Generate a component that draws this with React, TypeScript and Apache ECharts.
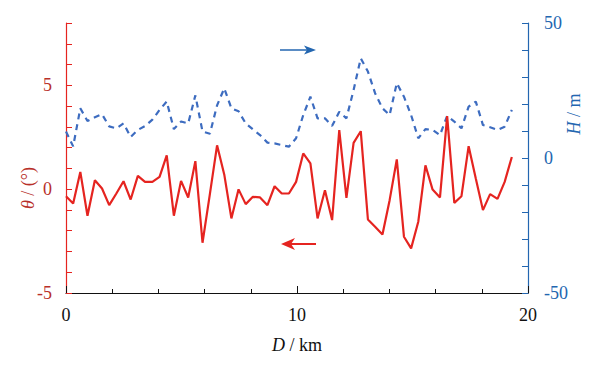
import React, { useEffect, useRef } from "react";
import * as echarts from "echarts";

const distanceKm = [
  0, 0.31, 0.62, 0.93, 1.25, 1.56, 1.87, 2.18, 2.49, 2.8, 3.11, 3.42, 3.74, 4.05, 4.36, 4.67,
  4.98, 5.29, 5.6, 5.91, 6.23, 6.54, 6.85, 7.16, 7.47, 7.78, 8.09, 8.4, 8.72, 9.03, 9.34, 9.65,
  9.96, 10.27, 10.58, 10.89, 11.21, 11.52, 11.83, 12.14, 12.45, 12.76, 13.07, 13.38, 13.7, 14.01,
  14.32, 14.63, 14.94, 15.25, 15.56, 15.87, 16.19, 16.5, 16.81, 17.12, 17.43, 17.74, 18.05, 18.36,
  18.68, 18.99, 19.3,
];

const thetaDeg = [
  -0.34, -0.69, 0.83, -1.28, 0.43, 0.03, -0.77, -0.21, 0.38, -0.5, 0.64, 0.35, 0.35, 0.59, 1.63,
  -1.28, 0.4, -0.4, 1.35, -2.58, -0.23, 2.11, 0.71, -1.41, -0.01, -0.72, -0.37, -0.4, -0.77, 0.14,
  -0.21, -0.21, 0.35, 1.72, 1.24, -1.41, -0.05, -1.49, 2.84, -0.42, 2.23, 2.79, -1.46, -1.81, -2.18,
  -0.53, 1.43, -2.29, -2.85, -1.57, 1.15, -0.02, -0.4, 3.52, -0.66, -0.34, 2.07, 0.51, -1.01, -0.24,
  -0.47, 0.35, 1.55,
];

const heightM = [
  9.8, 4.3, 18.4, 13.7, 15.1, 16.2, 11.7, 11.0, 12.8, 7.8, 10.4, 11.8, 14.2, 17.8, 20.9,
  10.7, 13.5, 12.8, 23.2, 9.8, 9.0, 19.5, 25.8, 18.4, 17.3, 12.8, 10.6, 8.5, 5.7, 5.4,
  4.8, 4.2, 7.3, 15.9, 22.7, 14.7, 14.7, 11.9, 17.1, 14.7, 25.2, 36.9, 32.0, 24.0, 18.4,
  15.9, 27.7, 22.7, 15.9, 7.3, 10.7, 10.4, 8.5, 15.6, 13.5, 11.0, 19.0, 20.9, 12.2, 11.4,
  10.4, 11.6, 17.8,
];

const xLabels = [0, 10, 20];
const leftLabels = [-5, 0, 5];
const rightLabels = [-50, 0, 50];

const FONT = "Liberation Serif";
const RED = "#e52420";
const RED_TEXT = "#b8302a";
const BLUE = "#2366b0";
const BLUE_LINE = "#3d6cc0";

export default function App() {
  const ref = useRef<HTMLDivElement>(null);

  useEffect(() => {
    if (!ref.current) return;
    const chart = echarts.init(ref.current, null, { renderer: "svg" });
    const red = distanceKm.map((d, i) => [d, thetaDeg[i]]);
    const blue = distanceKm.map((d, i) => [d, heightM[i]]);

    chart.setOption({
      animation: false,
      backgroundColor: "#ffffff",
      textStyle: { fontFamily: FONT },
      grid: { left: 66, right: 74, top: 23, bottom: 85, containLabel: false },
      xAxis: [
        {
          type: "value",
          min: 0,
          max: 20,
          interval: 2,
          axisLine: { show: true, onZero: false, lineStyle: { color: "#111", width: 1.2 } },
          axisTick: { show: true, inside: true, length: 4, lineStyle: { color: "#111" } },
          splitLine: { show: false },
          axisLabel: {
            margin: 13,
            fontSize: 18,
            color: "#111",
            fontFamily: FONT,
            formatter: (v: number) => (xLabels.includes(v) ? String(v) : ""),
          },
        },
        {
          type: "value",
          position: "bottom",
          min: 0,
          max: 20,
          interval: 10,
          axisLine: { show: false, onZero: false },
          axisTick: { show: true, inside: true, length: 7, lineStyle: { color: "#111" } },
          splitLine: { show: false },
          axisLabel: { show: false },
        },
      ],
      yAxis: [
        {
          type: "value",
          position: "left",
          min: -5,
          max: 8,
          interval: 1,
          axisLine: { show: true, onZero: false, lineStyle: { color: RED, width: 1.2 } },
          axisTick: { show: true, inside: true, length: 6, lineStyle: { color: RED } },
          splitLine: { show: false },
          axisLabel: {
            margin: 14,
            fontSize: 18,
            color: RED_TEXT,
            fontFamily: FONT,
            formatter: (v: number) => (leftLabels.includes(v) ? String(v) : ""),
          },
        },
        {
          type: "value",
          position: "right",
          min: -50,
          max: 50,
          interval: 10,
          axisLine: { show: true, onZero: false, lineStyle: { color: BLUE, width: 1.2 } },
          axisTick: { show: true, inside: true, length: 6, lineStyle: { color: BLUE } },
          splitLine: { show: false },
          axisLabel: {
            margin: 16,
            fontSize: 18,
            color: BLUE,
            fontFamily: FONT,
            formatter: (v: number) => (rightLabels.includes(v) ? String(v) : ""),
          },
        },
      ],
      series: [
        {
          type: "line",
          name: "H",
          xAxisIndex: 0,
          yAxisIndex: 1,
          data: blue,
          showSymbol: false,
          lineStyle: { color: BLUE_LINE, width: 2.2, type: [6, 5], cap: "butt" },
          z: 2,
        },
        {
          type: "line",
          name: "theta",
          xAxisIndex: 0,
          yAxisIndex: 0,
          data: red,
          showSymbol: false,
          lineStyle: { color: RED, width: 2.2 },
          z: 3,
        },
      ],
      graphic: [
        {
          type: "text",
          x: 28,
          y: 188,
          rotation: Math.PI / 2,
          style: {
            text: "{i|θ} / (°)",
            fill: RED_TEXT,
            fontFamily: FONT,
            fontSize: 18,
            textAlign: "center",
            textVerticalAlign: "middle",
            rich: { i: { fontStyle: "italic", fontSize: 18, fontFamily: FONT, fill: RED_TEXT } },
          },
        },
        {
          type: "text",
          x: 574,
          y: 114,
          rotation: Math.PI / 2,
          style: {
            text: "{i|H} / m",
            fill: BLUE,
            fontFamily: FONT,
            fontSize: 18,
            textAlign: "center",
            textVerticalAlign: "middle",
            rich: { i: { fontStyle: "italic", fontSize: 18, fontFamily: FONT, fill: BLUE } },
          },
        },
        {
          type: "text",
          x: 297,
          y: 345,
          style: {
            text: "{i|D} / km",
            fill: "#111",
            fontFamily: FONT,
            fontSize: 18,
            textAlign: "center",
            textVerticalAlign: "middle",
            rich: { i: { fontStyle: "italic", fontSize: 18, fontFamily: FONT, fill: "#111" } },
          },
        },
        {
          type: "line",
          shape: { x1: 280, y1: 50, x2: 308, y2: 50 },
          style: { stroke: BLUE, lineWidth: 1.5 },
        },
        {
          type: "polygon",
          shape: { points: [[316, 50], [304, 45.5], [307, 50], [304, 54.5]] },
          style: { fill: BLUE },
        },
        {
          type: "line",
          shape: { x1: 290, y1: 244, x2: 316, y2: 244 },
          style: { stroke: RED, lineWidth: 2 },
        },
        {
          type: "polygon",
          shape: { points: [[281, 244], [295, 238], [291, 244], [295, 250]] },
          style: { fill: RED },
        },
      ],
    });

    return () => chart.dispose();
  }, []);

  return (
    <div
      ref={ref}
      style={{ position: "fixed", left: 0, top: 0, width: 602, height: 378 }}
    />
  );
}
